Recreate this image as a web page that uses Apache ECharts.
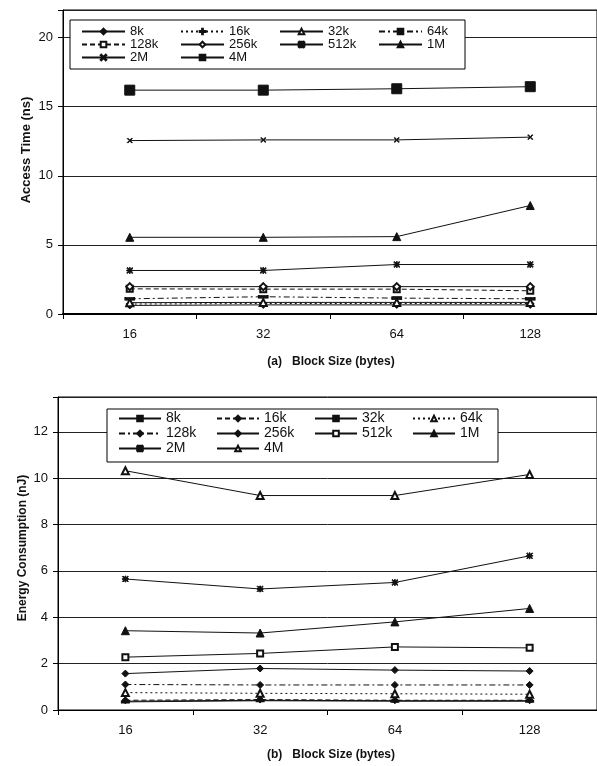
<!DOCTYPE html>
<html>
<head>
<meta charset="utf-8">
<script src="https://cdn.jsdelivr.net/npm/echarts@6/dist/echarts.min.js"></script>
<style>
  html, body { margin: 0; padding: 0; background: #fff; }
  #main { width: 597px; height: 766px; }
</style>
</head>
<body>
<div id="main"></div>
<script>
// 横轴：块大小 (bytes)
const blockSizes = ['16', '32', '64', '128']
const cacheSizes = ['8k', '16k', '32k', '64k', '128k', '256k', '512k', '1M', '2M', '4M']

// (a) 访问时间 ns
const acc8k = [0.62, 0.66, 0.66, 0.66]
const acc16k = [0.72, 0.76, 0.76, 0.76]
const acc32k = [0.82, 0.84, 0.84, 0.84]
const acc64k = [1.1, 1.25, 1.15, 1.1]
const acc128k = [1.82, 1.8, 1.8, 1.68]
const acc256k = [1.98, 1.98, 1.98, 1.98]
const acc512k = [3.15, 3.15, 3.58, 3.58]
const acc1M = [5.55, 5.55, 5.6, 7.85]
const acc2M = [12.55, 12.6, 12.6, 12.8]
const acc4M = [16.2, 16.2, 16.3, 16.45]

// (b) 能耗 nJ
const en8k = [0.35, 0.4, 0.38, 0.38]
const en16k = [0.42, 0.45, 0.42, 0.42]
const en32k = [0.38, 0.42, 0.4, 0.4]
const en64k = [0.75, 0.72, 0.7, 0.68]
const en128k = [1.1, 1.08, 1.08, 1.08]
const en256k = [1.57, 1.79, 1.72, 1.68]
const en512k = [2.28, 2.44, 2.72, 2.68]
const en1M = [3.42, 3.32, 3.8, 4.38]
const en2M = [5.65, 5.22, 5.5, 6.65]
const en4M = [10.32, 9.25, 9.25, 10.16]

const accData = [acc8k, acc16k, acc32k, acc64k, acc128k, acc256k, acc512k, acc1M, acc2M, acc4M]
const enData = [en8k, en16k, en32k, en64k, en128k, en256k, en512k, en1M, en2M, en4M]

// 自定义符号
const PLUS = 'path://M4.3,0H5.7V10H4.3Z M0,4.3H10V5.7H0Z'
const CROSS = 'path://M1,0L5,4L9,0L10,1L6,5L10,9L9,10L5,6L1,10L0,9L4,5L0,1Z'
const STAR = 'path://M4.3,0H5.7V10H4.3Z M0,4.3H10V5.7H0Z M1,0L5,4L9,0L10,1L6,5L10,9L9,10L5,6L1,10L0,9L4,5L0,1Z'

const DOT = [2, 3]
const DASH = [5, 3]
const DASHDOT = [6, 3, 2, 3]

// 每条线的样式: [线型, 符号, 大小]
const accStyle = [
  ['solid', 'diamond', 7],
  [DOT, PLUS, 7],
  ['solid', 'emptyTriangle', 7],
  [DASHDOT, 'rect', [9, 3]],
  [DASH, 'emptyRect', 6],
  ['solid', 'emptyDiamond', 7],
  ['solid', STAR, 6],
  ['solid', 'triangle', 8],
  ['solid', CROSS, 5],
  ['solid', 'rect', 10]
]
const enStyle = [
  ['solid', 'rect', [6, 2]],
  [DASH, 'diamond', 7],
  ['solid', 'rect', [4, 2]],
  [DOT, 'emptyTriangle', 7],
  [DASHDOT, 'diamond', 7],
  ['solid', 'diamond', 7],
  ['solid', 'emptyRect', 6],
  ['solid', 'triangle', 8],
  ['solid', STAR, 6],
  ['solid', 'emptyTriangle', 7]
]

const FONT = "'Liberation Sans', Arial, sans-serif"
const INK = '#111'

function makeSeries(prefix, data, style, idx) {
  return data.map((vals, i) => ({
    name: prefix + cacheSizes[i],
    type: 'line',
    xAxisIndex: idx,
    yAxisIndex: idx,
    data: vals,
    symbol: style[i][1],
    symbolSize: style[i][2],
    showAllSymbol: true,
    animation: false,
    lineStyle: { color: INK, width: 1, type: style[i][0] },
    itemStyle: { color: INK, borderColor: INK, borderWidth: 1 },
    emphasis: { disabled: true }
  }))
}

function makeLegend(prefix, left, top, width, fontSize, lineH, itemW, padding) {
  return {
    left: left,
    top: top,
    width: width,
    orient: 'horizontal',
    itemWidth: itemW,
    itemHeight: 7,
    itemGap: 0,
    padding: padding,
    borderColor: '#000',
    borderWidth: 1,
    backgroundColor: '#fff',
    selectedMode: false,
    data: cacheSizes.map((c, i) => ({
      name: prefix + c,
      textStyle: { width: (i % 4 === 3) ? 30 : 50 }
    })),
    formatter: (name) => name.slice(2),
    textStyle: { fontFamily: FONT, fontSize: fontSize, color: INK, lineHeight: lineH }
  }
}

const axisText = { fontFamily: FONT, fontSize: 13, color: INK }

const option = {
  backgroundColor: '#fff',
  animation: false,
  grid: [
    { left: 63, top: 10, width: 536, height: 304, show: true, borderColor: '#000', borderWidth: 1, backgroundColor: '#fff' },
    { left: 58, top: 397, width: 547, height: 313, show: true, borderColor: '#000', borderWidth: 1, backgroundColor: '#fff' }
  ],
  xAxis: [0, 1].map((i) => ({
    type: 'category',
    gridIndex: i,
    data: blockSizes,
    boundaryGap: true,
    axisLine: { lineStyle: { color: '#000', width: i === 0 ? 2 : 1 } },
    axisTick: { show: true, length: 5, lineStyle: { color: '#000' } },
    axisLabel: Object.assign({ margin: 14 }, axisText),
    splitLine: { show: false }
  })),
  yAxis: [
    {
      type: 'value', gridIndex: 0, min: 0, max: 22, interval: 5,
      axisLine: { show: true, lineStyle: { color: '#000' } },
      axisTick: { show: true, length: 5, lineStyle: { color: '#000' } },
      axisLabel: Object.assign({ margin: 10, formatter: (v) => (v % 5 === 0 ? v : '') }, axisText),
      splitLine: { show: true, lineStyle: { color: '#222', width: 1 } }
    },
    {
      type: 'value', gridIndex: 1, min: 0, max: 13.5, interval: 2,
      axisLine: { show: true, lineStyle: { color: '#000' } },
      axisTick: { show: true, length: 5, lineStyle: { color: '#000' } },
      axisLabel: Object.assign({ margin: 10, formatter: (v) => (v % 2 === 0 ? v : '') }, axisText),
      splitLine: { show: true, lineStyle: { color: '#222', width: 1 } }
    }
  ],
  legend: [
    makeLegend('a-', 70, 20, 380, 13, 12, 43, [5, 8, 5, 11]),
    makeLegend('b-', 107, 409, 380, 14, 15, 42, [2, 8, 6, 11])
  ],
  graphic: [
    { type: 'text', x: 331, y: 362, style: { text: '(a)   Block Size (bytes)', font: 'bold 12px ' + FONT, fill: INK, align: 'center', verticalAlign: 'middle' } },
    { type: 'text', x: 331, y: 755, style: { text: '(b)   Block Size (bytes)', font: 'bold 12px ' + FONT, fill: INK, align: 'center', verticalAlign: 'middle' } },
    { type: 'text', x: 26, y: 150, rotation: Math.PI / 2, style: { text: 'Access Time (ns)', font: 'bold 13px ' + FONT, fill: INK, align: 'center', verticalAlign: 'middle' } },
    { type: 'text', x: 23, y: 548, rotation: Math.PI / 2, style: { text: 'Energy Consumption (nJ)', font: 'bold 12px ' + FONT, fill: INK, align: 'center', verticalAlign: 'middle' } }
  ],
  series: makeSeries('a-', accData, accStyle, 0).concat(makeSeries('b-', enData, enStyle, 1))
}

const chart = echarts.init(document.getElementById('main'), null, { renderer: 'canvas' })
chart.setOption(option)
</script>
</body>
</html>
